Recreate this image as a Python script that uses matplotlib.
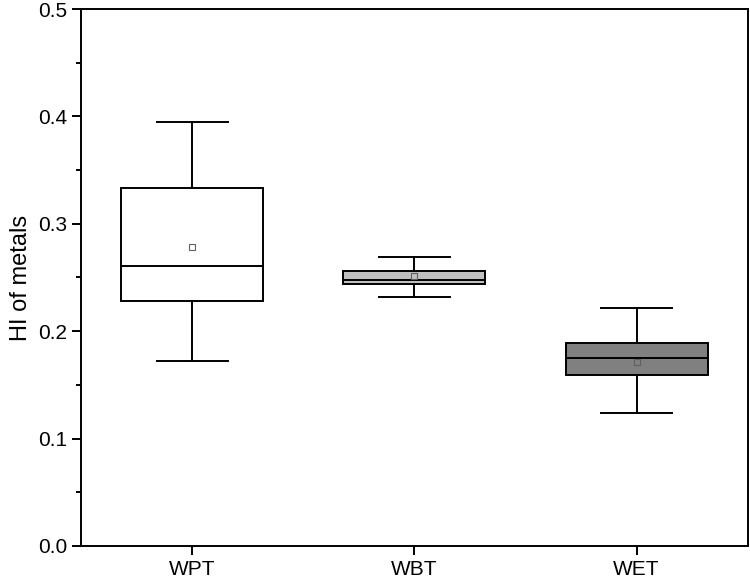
import numpy as np
import matplotlib
matplotlib.use("Agg")
from matplotlib import pyplot as plt
from matplotlib.ticker import MultipleLocator, FormatStrFormatter

plt.rcParams['font.family'] = ['Liberation Sans', 'DejaVu Sans']

# box statistics
groups = ["WPT", "WBT", "WET"]
whislo = [0.172, 0.232, 0.124]
q1 = [0.228, 0.244, 0.159]
med = [0.261, 0.248, 0.175]
q3 = [0.333, 0.256, 0.189]
whishi = [0.395, 0.269, 0.222]
means = [0.278, 0.251, 0.171]
box_colors = ["#ffffff", "#c0c0c0", "#808080"]

stats = []
for i, g in enumerate(groups):
    stats.append(dict(label=g, whislo=whislo[i], q1=q1[i], med=med[i],
                      q3=q3[i], whishi=whishi[i], mean=means[i], fliers=[]))

fig = plt.figure(figsize=(7.5, 5.82), dpi=100)
ax = fig.add_axes([0.108, 0.062, 0.889, 0.9225])

lw = 1.4
bp = ax.bxp(stats, positions=[1, 2, 3], widths=0.64, showmeans=True,
            patch_artist=True, showfliers=False,
            boxprops=dict(linewidth=lw, edgecolor="black"),
            whiskerprops=dict(linewidth=lw, color="black"),
            capprops=dict(linewidth=lw, color="black"),
            medianprops=dict(linewidth=lw, color="black"),
            meanprops=dict(marker="s", markersize=5, markerfacecolor="none",
                           markeredgecolor="#606060", markeredgewidth=0.8))
for patch, c in zip(bp["boxes"], box_colors):
    patch.set_facecolor(c)

ax.set_xlim(0.5, 3.5)
ax.set_ylim(0, 0.5)
ax.yaxis.set_major_locator(MultipleLocator(0.1))
ax.yaxis.set_minor_locator(MultipleLocator(0.05))
ax.yaxis.set_major_formatter(FormatStrFormatter("%.1f"))
ax.set_ylabel("HI of metals", fontsize=17)
ax.tick_params(axis="both", which="major", direction="out", length=6.5,
               width=lw, labelsize=15)
ax.tick_params(axis="y", which="minor", direction="out", length=3.5, width=lw)
ax.tick_params(top=False, right=False)
for s in ax.spines.values():
    s.set_linewidth(lw)

fig.savefig("out.png", dpi=100)
